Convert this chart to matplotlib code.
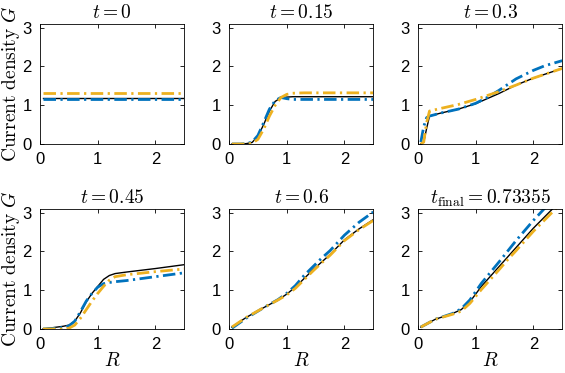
import numpy as np
import matplotlib.pyplot as plt

plt.rcParams['mathtext.fontset'] = 'cm'
plt.rcParams['font.family'] = ['Liberation Sans', 'DejaVu Sans']

titles = [r'$t = 0$', r'$t = 0.15$', r'$t = 0.3$',
          r'$t = 0.45$', r'$t = 0.6$', r'$t_{\mathrm{final}} = 0.73355$']

# panel 1 (t = 0)
r0 = [0.05, 2.5]
black0 = [1.18, 1.18]
blue0 = [1.16, 1.16]
orange0 = [1.32, 1.32]

# panel 2 (t = 0.15)
r1 = [0.05, 0.2, 0.3, 0.4, 0.5, 0.6, 0.7, 0.8, 0.9, 1.0, 1.1, 1.3, 1.6, 2.0, 2.5]
black1 = [0.0, 0.0, 0.01, 0.04, 0.2, 0.5, 0.85, 1.1, 1.19, 1.21, 1.22, 1.22, 1.22, 1.22, 1.22]
blue1 = [0.0, 0.0, 0.01, 0.05, 0.22, 0.55, 0.9, 1.12, 1.2, 1.17, 1.15, 1.15, 1.15, 1.15, 1.15]
orange1 = [0.0, 0.0, 0.0, 0.02, 0.12, 0.38, 0.72, 1.0, 1.2, 1.28, 1.31, 1.32, 1.32, 1.32, 1.32]

# panel 3 (t = 0.3)
r2 = [0.05, 0.1, 0.15, 0.2, 0.4, 0.7, 1.0, 1.2, 1.4, 1.7, 2.0, 2.2, 2.5]
black2 = [0.0, 0.05, 0.4, 0.72, 0.8, 0.9, 1.04, 1.17, 1.3, 1.52, 1.7, 1.8, 1.95]
blue2 = [0.05, 0.45, 0.68, 0.72, 0.8, 0.9, 1.05, 1.2, 1.38, 1.68, 1.9, 2.02, 2.15]
orange2 = [0.0, 0.05, 0.55, 0.85, 0.92, 1.02, 1.15, 1.25, 1.35, 1.52, 1.7, 1.8, 1.95]

# panel 4 (t = 0.45)
r3 = [0.05, 0.2, 0.4, 0.5, 0.6, 0.7, 0.8, 0.9, 1.0, 1.1, 1.2, 1.3, 1.5, 2.0, 2.5]
black3 = [0.0, 0.03, 0.07, 0.1, 0.2, 0.42, 0.7, 0.92, 1.1, 1.28, 1.38, 1.43, 1.47, 1.56, 1.66]
blue3 = [0.0, 0.01, 0.04, 0.08, 0.2, 0.45, 0.72, 0.92, 1.08, 1.17, 1.2, 1.22, 1.25, 1.35, 1.45]
orange3 = [0.0, 0.0, 0.0, 0.02, 0.1, 0.28, 0.5, 0.72, 0.92, 1.1, 1.26, 1.35, 1.4, 1.48, 1.55]

# panel 5 (t = 0.6)
r4 = [0.05, 0.3, 0.6, 0.85, 1.0, 1.15, 1.3, 1.45, 1.6, 1.75, 2.0, 2.25, 2.5]
black4 = [0.05, 0.3, 0.55, 0.75, 0.9, 1.08, 1.3, 1.52, 1.72, 1.92, 2.3, 2.58, 2.82]
blue4 = [0.02, 0.28, 0.55, 0.76, 0.92, 1.12, 1.38, 1.6, 1.82, 2.02, 2.42, 2.75, 3.02]
orange4 = [0.05, 0.3, 0.55, 0.75, 0.88, 1.05, 1.27, 1.49, 1.7, 1.9, 2.28, 2.56, 2.8]

# panel 6 (t = final)
r5 = [0.05, 0.3, 0.6, 0.75, 0.9, 1.1, 1.25, 1.4, 1.55, 1.7, 2.0, 2.2, 2.4]
black5 = [0.05, 0.25, 0.4, 0.5, 0.7, 1.1, 1.35, 1.6, 1.85, 2.1, 2.6, 2.9, 3.2]
blue5 = [0.05, 0.25, 0.4, 0.52, 0.75, 1.18, 1.45, 1.72, 2.0, 2.28, 2.8, 3.12, 3.4]
orange5 = [0.05, 0.25, 0.38, 0.46, 0.66, 1.02, 1.27, 1.52, 1.78, 2.02, 2.52, 2.82, 3.12]

panels = [(r0, black0, blue0, orange0), (r1, black1, blue1, orange1),
          (r2, black2, blue2, orange2), (r3, black3, blue3, orange3),
          (r4, black4, blue4, orange4), (r5, black5, blue5, orange5)]

fig, axes = plt.subplots(2, 3, figsize=(5.65, 3.73), dpi=100)
fig.subplots_adjust(left=0.071, right=0.995, top=0.936, bottom=0.118,
                    wspace=0.31, hspace=0.54)

for i, ax in enumerate(axes.flat):
    r, bk, bl, orr = panels[i]
    ax.plot(r, bk, color='black', lw=1.0)
    ax.plot(r, bl, color='#0072BD', lw=2.0, ls=(0, (4.5, 1.6, 0.8, 1.6)))
    ax.plot(r, orr, color='#EDB120', lw=2.0, ls=(0, (4.5, 1.6, 0.8, 1.6)))
    ax.set_xlim(0, 2.5)
    ax.set_ylim(0, 3.1)
    ax.set_xticks([0, 1, 2])
    ax.set_yticks([0, 1, 2, 3])
    ax.tick_params(direction='in', top=True, right=True, length=3,
                   labelsize=12, width=0.6, pad=6)
    for s in ax.spines.values():
        s.set_linewidth(0.6)
    ax.set_title(titles[i], fontsize=14, pad=4)
    if i % 3 == 0:
        ax.set_ylabel(r'$\mathrm{Current\ density}\ G$', fontsize=14, labelpad=0)
    if i >= 3:
        ax.set_xlabel(r'$R$', fontsize=14, labelpad=0)

fig.savefig('out.png', dpi=100)
